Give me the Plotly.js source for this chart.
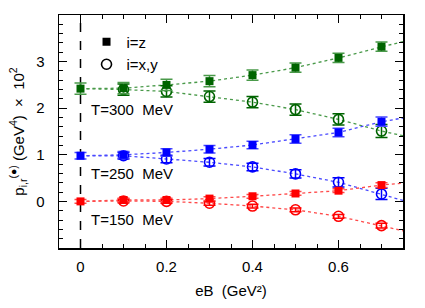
<!DOCTYPE html>
<html><head><meta charset="utf-8">
<script src="https://cdn.plot.ly/plotly-3.0.1.min.js"></script>
<style>html,body{margin:0;padding:0;background:#fff}#chart{width:425px;height:308px}</style>
</head><body><div id="chart"></div>
<script>
// eB values (GeV^2)
const eB = [0, 0.1, 0.2, 0.3, 0.4, 0.5, 0.6, 0.7];
const eBxy = [0.1, 0.2, 0.3, 0.4, 0.5, 0.6, 0.7];
const eBfit = [0, 0.1, 0.2, 0.3, 0.4, 0.5, 0.6, 0.7, 0.75];

// T = 300 MeV
const t300_z = [2.42, 2.43, 2.50, 2.58, 2.71, 2.87, 3.08, 3.32];
const t300_z_err = [0.12, 0.12, 0.12, 0.12, 0.11, 0.1, 0.1, 0.1];
const t300_xy = [2.40, 2.36, 2.25, 2.13, 1.97, 1.76, 1.51];
const t300_xy_err = [0.12, 0.12, 0.12, 0.12, 0.12, 0.12, 0.14];
const t300_z_fit = [2.42, 2.43, 2.50, 2.58, 2.71, 2.87, 3.08, 3.32, 3.43];
const t300_xy_fit = [2.42, 2.40, 2.36, 2.25, 2.13, 1.97, 1.76, 1.51, 1.41];

// T = 250 MeV
const t250_z = [0.98, 1.0, 1.05, 1.12, 1.21, 1.34, 1.48, 1.71];
const t250_z_err = [0.07, 0.07, 0.08, 0.08, 0.08, 0.09, 0.09, 0.1];
const t250_xy = [0.98, 0.91, 0.84, 0.74, 0.59, 0.41, 0.16];
const t250_xy_err = [0.07, 0.08, 0.08, 0.08, 0.09, 0.1, 0.12];
const t250_z_fit = [0.98, 1.0, 1.05, 1.12, 1.21, 1.34, 1.48, 1.71, 1.79];
const t250_xy_fit = [0.98, 0.98, 0.91, 0.84, 0.74, 0.59, 0.41, 0.16, 0.02];

// T = 150 MeV
const t150_z = [0.0, 0.03, 0.03, 0.06, 0.11, 0.17, 0.23, 0.35];
const t150_z_err = [0.04, 0.04, 0.04, 0.04, 0.04, 0.04, 0.04, 0.05];
const t150_xy = [0.01, 0.0, -0.04, -0.10, -0.18, -0.32, -0.52];
const t150_xy_err = [0.04, 0.04, 0.04, 0.04, 0.04, 0.04, 0.05];
const t150_z_fit = [0.0, 0.03, 0.03, 0.06, 0.11, 0.17, 0.23, 0.35, 0.39];
const t150_xy_fit = [0.0, 0.01, 0.0, -0.04, -0.10, -0.18, -0.32, -0.52, -0.63];

const tLabels = ["T=300  MeV", "T=250  MeV", "T=150  MeV"];
const tLabelY = [1.98, 0.59, -0.39];
const legendNames = ["i=z", "i=x,y"];
const yTickVals = [0, 1, 2, 3];
const xTickVals = [0, 0.2, 0.4, 0.6];

const groups = [
  {z: t300_z, ze: t300_z_err, xy: t300_xy, xye: t300_xy_err, zf: t300_z_fit, xyf: t300_xy_fit, c: "#006400", lc: "#4a9a4a"},
  {z: t250_z, ze: t250_z_err, xy: t250_xy, xye: t250_xy_err, zf: t250_z_fit, xyf: t250_xy_fit, c: "#0000ff", lc: "#4a4aff"},
  {z: t150_z, ze: t150_z_err, xy: t150_xy, xye: t150_xy_err, zf: t150_z_fit, xyf: t150_xy_fit, c: "#ff0000", lc: "#ff4a4a"}
];

const traces = [];
groups.forEach(g => {
  traces.push({x: eBfit, y: g.zf, mode: "lines", line: {color: g.lc, dash: "dot", width: 1.3}, showlegend: false, hoverinfo: "skip"});
  traces.push({x: eBfit, y: g.xyf, mode: "lines", line: {color: g.lc, dash: "dot", width: 1.3}, showlegend: false, hoverinfo: "skip"});
  traces.push({x: eBxy, y: g.xy, mode: "markers", showlegend: false,
    marker: {symbol: "circle-open", size: 10, color: g.c, line: {width: 1.6, color: g.c}},
    error_y: {type: "data", array: g.xye, visible: true, color: g.c, thickness: 1.5, width: 6}});
  traces.push({x: eB, y: g.z, mode: "markers", showlegend: false,
    marker: {symbol: "square", size: 8, color: g.c},
    error_y: {type: "data", array: g.ze, visible: true, color: g.lc, thickness: 1.5, width: 6}});
});
traces.push({x: [null], y: [null], mode: "markers", name: legendNames[0], marker: {symbol: "square", size: 8, color: "#000"}});
traces.push({x: [null], y: [null], mode: "markers", name: legendNames[1], marker: {symbol: "circle-open", size: 10, color: "#000", line: {width: 1.6, color: "#000"}}});

const font = {family: "Liberation Sans, Arial, sans-serif", size: 15, color: "#000"};

const layout = {
  width: 425, height: 308,
  margin: {l: 59, r: 22, t: 15, b: 60},
  paper_bgcolor: "#fff", plot_bgcolor: "#fff",
  font: font,
  showlegend: true,
  legend: {x: 0.08, y: 0.955, xanchor: "left", yanchor: "top", bgcolor: "rgba(0,0,0,0)", font: {size: 15}, tracegroupgap: 0, itemwidth: 30},
  xaxis: {
    range: [-0.05, 0.75], showgrid: false, zeroline: false,
    showline: true, linecolor: "#000", linewidth: 1.5, mirror: "allticks",
    ticks: "inside", ticklen: 8, tickwidth: 1.2, tickcolor: "#000",
    tickvals: xTickVals, ticktext: xTickVals.map(String),
    minor: {dtick: 0.05, tick0: 0, ticks: "inside", ticklen: 4, tickcolor: "#000", tickwidth: 1},
    tickfont: {size: 15}, ticklabelstandoff: 4,
    title: {text: "eB  (GeV²)", font: {size: 15}, standoff: 12}
  },
  yaxis: {
    range: [-1, 4], showgrid: false, zeroline: false,
    showline: true, linecolor: "#000", linewidth: 1.5, mirror: "allticks",
    ticks: "inside", ticklen: 8, tickwidth: 1.2, tickcolor: "#000",
    tickvals: yTickVals, ticktext: yTickVals.map(String),
    minor: {dtick: 0.2, tick0: 0, ticks: "inside", ticklen: 4, tickcolor: "#000", tickwidth: 1},
    tickfont: {size: 15}, ticklabelstandoff: 10,
    title: {text: "p<sub>i,r</sub><sup>(●)</sup> (GeV<sup>4</sup>)  ×  10<sup>2</sup>", font: {size: 15}, standoff: 8}
  },
  shapes: [{type: "line", xref: "x", yref: "paper", x0: 0, x1: 0, y0: 0, y1: 1, line: {color: "#000", width: 1.5, dash: "dash"}, layer: "below"}],
  annotations: tLabels.map((t, i) => ({x: 0.02, y: tLabelY[i], xref: "x", yref: "y", text: t, showarrow: false, xanchor: "left", yanchor: "middle", font: {size: 15}}))
};

Plotly.newPlot("chart", traces, layout, {displayModeBar: false, staticPlot: true});
</script></body></html>
